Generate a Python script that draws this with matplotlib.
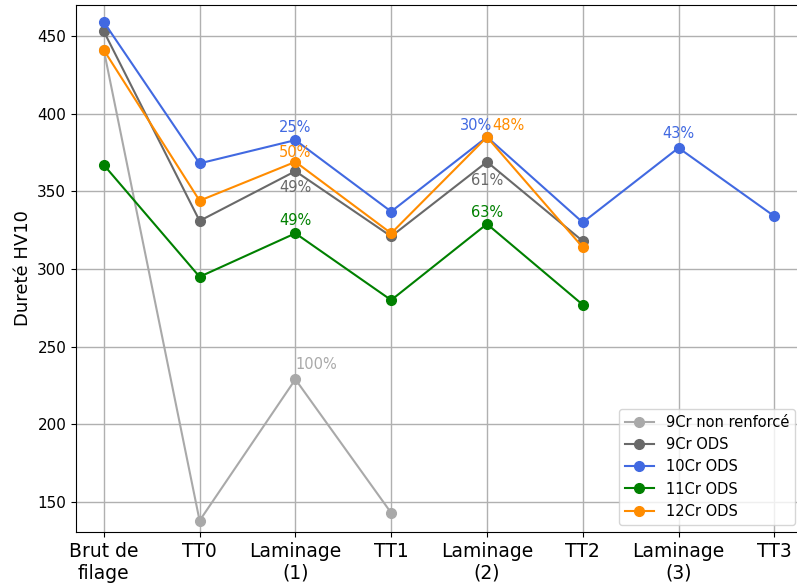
import matplotlib.pyplot as plt

etapes = ["Brut de\nfilage", "TT0", "Laminage\n(1)", "TT1", "Laminage\n(2)", "TT2", "Laminage\n(3)", "TT3"]

hv_9cr_nr = [441, 138, 229, 143]
hv_9cr = [453, 331, 363, 321, 369, 318]
hv_10cr = [459, 368, 383, 337, 385, 330, 378, 334]
hv_11cr = [367, 295, 323, 280, 329, 277]
hv_12cr = [441, 344, 369, 323, 385, 314]

series = [
    ("9Cr non renforcé", hv_9cr_nr, "darkgray"),
    ("9Cr ODS", hv_9cr, "dimgray"),
    ("10Cr ODS", hv_10cr, "royalblue"),
    ("11Cr ODS", hv_11cr, "green"),
    ("12Cr ODS", hv_12cr, "darkorange"),
]

# taux de laminage: (serie, etape, texte, decalage, alignement h, alignement v, couleur)
taux = [
    (hv_10cr, 2, "25%", (0, 3.5), "center", "bottom", "royalblue"),
    (hv_12cr, 2, "50%", (0, 1.5), "center", "bottom", "darkorange"),
    (hv_9cr, 2, "49%", (0, -6.5), "center", "top", "dimgray"),
    (hv_11cr, 2, "49%", (0, 3.5), "center", "bottom", "green"),
    (hv_9cr_nr, 2, "100%", (0, 5), "left", "bottom", "darkgray"),
    (hv_10cr, 4, "30%", (3.5, 3), "right", "bottom", "royalblue"),
    (hv_12cr, 4, "48%", (3.5, 3), "left", "bottom", "darkorange"),
    (hv_9cr, 4, "61%", (0, -8), "center", "top", "dimgray"),
    (hv_11cr, 4, "63%", (0, 3), "center", "bottom", "green"),
    (hv_10cr, 6, "43%", (0, 5), "center", "bottom", "royalblue"),
]

fig = plt.figure(figsize=(7.97, 5.85), dpi=100)
ax = fig.add_axes([0.0954, 0.0906, 0.911, 0.9009])

for nom, vals, c in series:
    ax.plot(range(len(vals)), vals, marker="o", color=c, label=nom, linewidth=1.5, markersize=7)

for vals, i, txt, off, ha, va, c in taux:
    ax.annotate(txt, (i, vals[i]), xytext=off, textcoords="offset points",
                ha=ha, va=va, color=c, fontsize=10.5)

ax.set_xticks(range(len(etapes)))
ax.set_xticklabels(etapes, fontsize=13.5)
ax.tick_params(axis="y", labelsize=11)
ax.set_xlim(-0.29, 7.29)
ax.set_ylim(130.7, 470)
ax.set_ylabel("Dureté HV10", fontsize=13)
ax.grid(True, color="#b0b0b0", linewidth=1)
ax.set_axisbelow(True)
ax.legend(loc="lower right", fontsize=10.5)

fig.savefig("out.png", dpi=100)
